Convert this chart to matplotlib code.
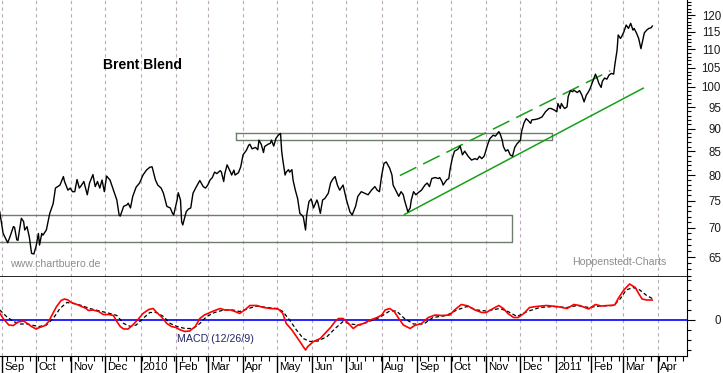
import numpy as np
import pandas as pd
import matplotlib
matplotlib.use('Agg')
import matplotlib.pyplot as plt
import matplotlib.dates as mdates
import matplotlib.ticker as ticker
import matplotlib.transforms as mtransforms

plt.rcParams['font.family'] = ['Liberation Sans', 'DejaVu Sans']

# all x values are days counted from 1 Sep 2009
base = np.datetime64('2009-09-01')

price_day = [-2, 1, 5, 7, 10, 11, 13, 14, 17, 19, 20, 22, 24, 26, 28, 30, 32, 33, 35, 36,
             38, 39, 42, 45, 47, 51, 54, 55, 58, 60, 62, 64, 66, 68, 70, 72, 75, 77, 80, 82,
             84, 86, 88, 90, 92, 95, 98, 101, 103, 104, 107, 110, 111, 113, 115, 118, 121, 124, 127, 130,
             132, 135, 137, 140, 142, 145, 148, 150,
             151, 154, 155, 157, 158, 159, 162, 164, 166, 168, 171, 174, 177, 179, 181, 183, 185, 187, 189, 192,
             193, 195, 196, 198, 201, 202, 204, 205, 208, 210, 212, 215, 217, 218, 220, 223, 225, 226, 228, 230,
             231, 234, 236, 237, 239, 241, 243, 245, 246, 247, 249, 250, 252, 253, 255, 256, 258, 260, 262, 265,
             267, 268, 270, 272, 274, 277, 278, 280, 282, 284, 287, 289, 291, 293, 295, 297,
             300, 303, 306, 308, 311, 313, 316, 319, 322, 325, 328, 330, 332, 334, 336, 338, 341, 343, 344, 347,
             349, 351, 353, 354, 356, 357, 359, 360, 362, 364, 366, 369, 372, 374, 376, 378, 381, 384, 385, 387,
             388, 391, 393, 394, 396, 398, 401, 403, 405, 407, 410, 413, 416, 418, 420, 422, 424, 425, 427, 429,
             432, 434, 437, 438, 440, 441, 443, 445, 447, 449, 451,
             453, 456, 457, 459, 461, 463, 465, 466, 469, 472, 475, 478, 481, 483, 486, 488, 489, 491, 492, 494,
             495, 497, 498, 500, 502, 503, 506, 508, 510, 512, 514, 515, 517, 519, 521, 522, 524, 525, 527, 528,
             530, 532, 534, 536, 538, 539, 541, 542, 544, 545, 547, 549, 551, 553, 555, 556, 558, 560, 561, 562,
             564, 565, 567, 569, 571, 572]
price = [72.9, 69.0, 67.4, 68.4, 70.2, 70.1, 67.9, 67.8, 71.7, 71.1, 69.6, 70.2, 68.4, 65.6, 65.5, 66.8, 69.0, 67.0, 69.0, 68.7,
         69.3, 69.6, 72.6, 74.4, 77.4, 78.0, 79.7, 78.7, 77.0, 77.4, 76.7, 76.7, 79.1, 77.4, 78.0, 78.7, 76.1, 78.4, 80.1, 77.7,
         78.7, 77.4, 79.0, 76.7, 79.8, 79.0, 77.0, 75.1, 72.3, 72.1, 73.9, 74.2, 74.5, 73.6, 75.8, 77.6, 78.4, 80.0, 81.0, 81.6,
         81.7, 79.0, 78.0, 77.4, 76.4, 73.9, 73.6, 72.6,
         72.3, 75.1, 76.5, 75.1, 71.1, 70.5, 72.9, 73.4, 73.6, 76.4, 77.7, 78.9, 77.7, 77.4, 78.0, 79.0, 79.5, 80.6, 80.3, 80.9,
         80.6, 78.7, 80.3, 82.1, 80.6, 80.0, 81.0, 80.0, 80.5, 81.7, 84.2, 85.2, 86.3, 86.5, 85.5, 85.8, 85.3, 87.4, 86.5, 84.7,
         86.0, 86.5, 86.7, 87.4, 86.1, 87.8, 88.5, 88.9, 85.0, 83.1, 80.0, 80.6, 81.1, 80.6, 81.1, 79.0, 77.0, 75.4, 72.6, 72.0,
         69.6, 72.3, 74.8, 75.3, 73.6, 75.1, 74.5, 72.6, 75.1, 75.4, 76.4, 78.4, 79.2, 79.7, 78.0, 77.0,
         78.0, 75.1, 72.9, 72.3, 73.9, 75.8, 76.7, 76.4, 76.1, 77.0, 77.7, 77.0, 76.7, 80.0, 82.4, 82.7, 81.4, 80.0, 78.0, 76.7,
         75.8, 76.7, 76.1, 75.1, 73.6, 72.9, 73.6, 75.1, 76.7, 76.1, 76.5, 77.0, 78.0, 78.4, 77.7, 79.3, 79.5, 79.3, 79.5, 78.7,
         78.0, 79.0, 79.3, 81.0, 83.4, 85.0, 85.4, 86.1, 84.2, 85.0, 83.9, 83.1, 83.4, 83.2, 83.9, 83.4, 83.9, 84.6, 86.3, 87.7,
         88.5, 88.3, 89.3, 88.9, 87.4, 86.0, 85.0, 85.3, 84.2, 83.9, 85.8,
         86.6, 87.4, 89.3, 91.2, 92.3, 91.8, 91.2, 92.0, 92.1, 92.3, 92.7, 93.9, 94.7, 94.7, 94.3, 93.9, 95.9, 94.7, 95.9, 95.0,
         94.7, 95.1, 97.6, 99.1, 98.8, 99.2, 98.6, 99.1, 98.0, 96.3, 98.0, 98.4, 99.4, 100.9, 102.5, 103.3, 101.8, 100.9, 99.9, 101.4,
         102.3, 102.0, 103.1, 103.5, 103.3, 105.7, 109.8, 114.1, 113.1, 113.6, 115.0, 117.0, 116.0, 117.5, 115.5, 116.0, 114.7, 113.1, 111.6, 110.2,
         113.1, 114.7, 115.5, 116.0, 116.2, 116.7]

macd_day = [-2, 1, 6, 10, 14, 19, 23, 26, 30, 33, 38, 41, 44, 48, 52, 55, 58, 61, 66, 70,
            74, 76, 80, 85, 89, 94, 98, 101, 104, 107, 111, 115, 120, 124, 129, 133, 136, 140, 145, 149,
            153, 157, 161, 165, 170, 174, 178, 181, 186, 192, 196, 201, 205, 209, 214, 218, 224, 230, 236, 243,
            247, 250, 255, 259, 264, 267, 269, 274, 280, 284, 289, 293, 296, 300, 303, 309, 313, 318, 324, 330,
            334, 337, 341, 345, 349, 353, 359, 363, 369, 375, 381, 387, 394, 398, 404, 410, 416, 422, 426, 432,
            437, 441, 445, 450, 454, 459, 464, 470, 479, 488, 497, 503, 508, 516, 522, 527, 533, 539, 542, 547,
            552, 557, 560, 563, 567, 572]
macd = [0.7, 0.15, -0.5, -0.55, -0.2, -0.1, -0.4, -0.65, -0.9, -0.75, -0.55, -0.15, 0.5, 1.35, 1.95, 2.1, 2.0, 1.75, 1.55, 1.35,
        1.15, 0.95, 1.0, 0.85, 0.55, 0.55, 0.45, -0.15, -0.65, -0.9, -0.9, -0.5, 0.1, 0.65, 1.05, 1.15, 0.75, 0.35, -0.35, -0.65,
        -0.75, -1.0, -1.15, -1.1, -0.65, 0.15, 0.5, 0.65, 0.9, 1.15, 1.0, 1.0, 0.85, 0.65, 1.05, 1.45, 1.45, 1.25, 1.15, 1.1,
        0.65, -0.35, -1.0, -1.65, -2.5, -3.0, -2.65, -2.15, -1.85, -1.35, -0.75, -0.15, 0.15, 0.15, -0.15, -0.85, -0.5, -0.35, 0.0, 0.25,
        0.5, 1.0, 1.15, 0.85, 0.15, -0.5, -0.85, -0.55, -0.35, 0.25, 0.5, 0.45, 0.5, 1.0, 1.55, 1.4, 1.0, 0.75, 0.75, 1.15,
        1.45, 1.15, 0.65, 0.25, 0.25, 0.65, 1.25, 1.35, 1.45, 1.35, 1.15, 1.55, 1.45, 1.1, 1.55, 1.4, 1.45, 1.5, 2.15, 3.0,
        3.6, 3.25, 2.65, 2.1, 2.0, 2.0]

signal_day = [-2, 4, 10, 16, 22, 28, 33, 39, 45, 51, 57, 63, 70, 77, 86, 95, 101, 107, 113, 118,
              124, 130, 136, 142, 148, 154, 161, 168, 174, 180, 187, 195, 203, 209, 217, 224, 233, 242, 247, 253,
              259, 265, 271, 278, 286, 293, 300, 306, 315, 324, 332, 341, 347, 354, 362, 371, 379, 391, 400, 409,
              418, 426, 438, 445, 453, 462, 473, 485, 497, 506, 516, 526, 538, 544, 549, 555, 561, 567, 572]
signal = [1.0, 0.35, -0.15, -0.4, -0.4, -0.55, -0.65, -0.5, 0.15, 1.15, 1.75, 1.65, 1.45, 1.15, 0.9, 0.65, 0.45, -0.35, -0.65, -0.5,
          0.15, 0.75, 0.75, 0.35, -0.35, -0.65, -0.85, -0.85, -0.35, 0.35, 0.75, 1.0, 1.0, 0.85, 1.15, 1.4, 1.25, 1.15, 0.85, 0.0,
          -1.0, -1.85, -2.15, -2.1, -1.65, -0.85, -0.15, -0.4, -0.5, -0.1, 0.25, 0.9, 0.9, 0.15, -0.4, -0.4, 0.25, 0.45, 1.0, 1.35,
          1.0, 0.9, 1.15, 0.85, 0.35, 0.85, 1.25, 1.35, 1.25, 1.45, 1.25, 1.4, 1.45, 2.15, 3.0, 3.25, 3.0, 2.45, 2.15]

# drawn-in chart analysis (days, price levels)
support_days = [-2, 449]
support_lvls = [67.6, 72.25]
resist_days = [206, 484]
resist_lvls = [87.4, 89.1]
trend_low_days = [354, 564]
trend_low = [72.4, 99.7]
trend_up_days = [350, 535]
trend_up = [79.9, 104.2]

months = pd.date_range('2009-09-01', '2011-04-01', freq='MS')
month_lbl = [str(m.year) if m.month == 1 else m.strftime('%b') for m in months]


def to_dates(d):
    return base + np.array(d).astype('timedelta64[D]')


W, H = 723, 373
fig = plt.figure(figsize=(W / 100, H / 100), dpi=100)
ax = fig.add_axes([0, 1 - 277 / H, 687 / W, 277 / H])
ax2 = fig.add_axes([0, 1 - 356 / H, 687 / W, 79 / H], sharex=ax)

px_day = 1.1369
x0 = mdates.date2num(base) - 1.76
ax.set_xlim(x0, x0 + 687 / px_day)

for m in months:
    for a in (ax, ax2):
        a.axvline(m, color='#b9abb9', lw=0.8, ls=(0, (3, 3)), zorder=0)

# price panel
ax.plot(to_dates(price_day), price, color='black', lw=1.0, zorder=3)

box_col = '#6f7d6f'
sd, sl = to_dates(support_days), support_lvls
ax.plot([sd[0], sd[1], sd[1], sd[0]], [sl[1], sl[1], sl[0], sl[0]], color=box_col, lw=1)
rd, rl = to_dates(resist_days), resist_lvls
ax.plot([rd[0], rd[1], rd[1], rd[0], rd[0]], [rl[1], rl[1], rl[0], rl[0], rl[1]], color=box_col, lw=1)
ax.plot(to_dates(trend_low_days), trend_low, color='#17a017', lw=1.1)
ax.plot(to_dates(trend_up_days), trend_up, color='#17a017', lw=1.1, ls=(0, (12, 5)))

ax.set_yscale('log')
ax.set_ylim(61.79, 124.66)
ax.yaxis.tick_right()
ax.yaxis.set_major_locator(ticker.FixedLocator(np.arange(65, 121, 5)))
ax.yaxis.set_minor_locator(ticker.FixedLocator(np.arange(62, 125, 1)))
ax.yaxis.set_major_formatter(ticker.FormatStrFormatter('%d'))
ax.yaxis.set_minor_formatter(ticker.NullFormatter())
ax.tick_params(axis='y', which='major', length=6, width=0.8, pad=18.5, labelsize=8.3, direction='out')
ax.tick_params(axis='y', which='minor', length=3, width=0.8, direction='out')
ax.tick_params(axis='x', which='both', bottom=False, labelbottom=False)
plt.setp(ax.get_yticklabels(), ha='right', color='#1a1a1a')
for s in ('top', 'left'):
    ax.spines[s].set_visible(False)
ax.spines['bottom'].set_linewidth(1.2)

ax.text(0.150, 0.765, 'Brent Blend', transform=ax.transAxes, fontsize=10, fontweight='bold', va='center')
ax.text(0.0146, 0.047, 'www.chartbuero.de', transform=ax.transAxes, color='#8c8c8c', fontsize=7.6, va='center')
ax.text(0.8326, 0.054, 'Hoppenstedt-Charts', transform=ax.transAxes, color='#8c8c8c', fontsize=7.6, va='center')

# MACD panel
ax2.axhline(0, color='#0000ff', lw=1.2, zorder=1)
ax2.plot(to_dates(signal_day), signal, color='black', lw=0.9, ls=(0, (3, 2)), zorder=2)
ax2.plot(to_dates(macd_day), macd, color='#ff0000', lw=1.2, zorder=3)
ax2.set_ylim(-3.6, 4.3)
ax2.yaxis.tick_right()
ax2.yaxis.set_major_locator(ticker.FixedLocator([0]))
ax2.yaxis.set_minor_locator(ticker.FixedLocator(np.arange(-3, 5, 1)))
ax2.yaxis.set_major_formatter(ticker.FormatStrFormatter('%d'))
ax2.tick_params(axis='y', which='major', length=6, width=0.8, pad=18.5, labelsize=8.3, direction='out')
ax2.tick_params(axis='y', which='minor', length=3, width=0.8, direction='out')
plt.setp(ax2.get_yticklabels(), ha='right', color='#1a1a1a')
ax2.spines['top'].set_visible(False)
ax2.spines['left'].set_visible(False)
ax2.text(0.2576, 0.215, 'MACD (12/26/9)', transform=ax2.transAxes, color='#23266a', fontsize=7.7, va='center')

ax2.xaxis.set_major_locator(mdates.MonthLocator())
ax2.xaxis.set_minor_locator(mdates.WeekdayLocator(byweekday=mdates.SA))
ax2.tick_params(axis='x', which='major', length=13, width=1, direction='out', labelbottom=False)
ax2.tick_params(axis='x', which='minor', length=3.5, width=0.8, direction='out')

lbl_tr = mtransforms.blended_transform_factory(ax2.transData, fig.transFigure) + \
    mtransforms.ScaledTranslation(1.5 / 72, 0, fig.dpi_scale_trans)
for m, t in zip(months, month_lbl):
    ax2.text(m, 1 - 367.5 / H, t, transform=lbl_tr, ha='left', va='center', fontsize=8.2, clip_on=False)

fig.savefig('out.png', dpi=100, facecolor='white')
